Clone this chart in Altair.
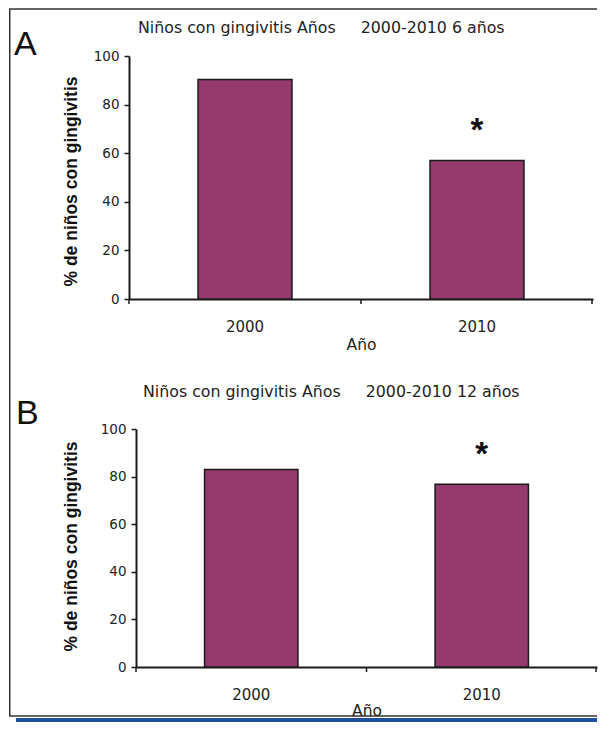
import altair as alt
import pandas as pd

# ---------------- data ----------------
years = ["2000", "2010"]
pct_6_years = [90.3, 57.0]
pct_12_years = [83.0, 76.8]
significance = ["", "*"]
panel_letters = ["A", "B"]
panel_titles = [
    "Niños con gingivitis Años     2000-2010 6 años",
    "Niños con gingivitis Años     2000-2010 12 años",
]
y_ticks = [0, 20, 40, 60, 80, 100]
x_title = "Año"
y_title = "% de niños con gingivitis"

# ---------------- style ----------------
BAR = "#943a6d"
INK = "#1a1a1a"
LABEL = "#222222"
BLUE = "#1d4f9e"
TXT_FONT = "DejaVu Sans"
Y_TITLE_FONT = "Liberation Sans"


def one_row():
    return alt.Data(values=[{}])


def panel(values, letter, title, width, height, x0, title_dx, title_dy,
          letter_dx, letter_dy, ytitle_x, ytitle_y, xtitle_y, extras=()):
    df = pd.DataFrame({"year": years, "pct": values, "sig": significance})
    base = alt.Chart(df)

    x_enc = alt.X(
        "year:N",
        sort=years,
        title=x_title,
        scale=alt.Scale(range=[x0, width], paddingInner=0.595, paddingOuter=0.2975),
        axis=alt.Axis(
            labelAngle=0,
            ticks=False,
            tickSize=0,
            labelPadding=20,
            labelFont=TXT_FONT,
            labelFontSize=15,
            labelColor=LABEL,
            domainColor=INK,
            domainWidth=2,
            grid=False,
            titleFont=TXT_FONT,
            titleFontSize=15.5,
            titleFontWeight="normal",
            titleColor=LABEL,
            titleX=(x0 + width) / 2,
            titleY=xtitle_y,
            titleAlign="center",
            titleBaseline="middle",
        ),
    )
    y_axis = dict(
        values=y_ticks,
        grid=False,
        tickSize=5,
        tickWidth=1.5,
        tickColor=INK,
        domainColor=INK,
        domainWidth=2,
        labelPadding=5,
        labelFont=TXT_FONT,
        labelFontSize=13.5,
        labelColor=LABEL,
        titleFont=Y_TITLE_FONT,
        titleFontSize=17.5,
        titleFontWeight="bold",
        titleColor="#111111",
        titleX=ytitle_x,
        titleY=ytitle_y,
        titleAlign="center",
        titleBaseline="middle",
        titleAngle=270,
    )
    if x0:
        y_axis["offset"] = -x0
    y_enc = alt.Y("pct:Q", title=y_title,
                  scale=alt.Scale(domain=[0, 100], nice=False, zero=True),
                  axis=alt.Axis(**y_axis))

    bars = base.mark_bar(color=BAR, stroke=INK, strokeWidth=1.5).encode(x=x_enc, y=y_enc)
    stars = base.mark_text(
        font="Liberation Sans", fontSize=33, fontWeight="bold", color="#111111",
        baseline="alphabetic", align="center", dy=-19,
    ).encode(x=alt.X("year:N", sort=years), y="pct:Q", text="sig:N")

    # x axis ticks at the band boundaries
    ticks = [
        alt.Chart(one_row()).mark_rule(color=INK, strokeWidth=1.5).encode(
            x=alt.value(px), y=alt.value(height), y2=alt.value(height + 5))
        for px in (x0, (x0 + width) / 2, width - 1)
    ]
    title_mark = alt.Chart(one_row()).mark_text(
        text=title.replace(" ", "\u00a0"), align="left", baseline="middle",
        font=TXT_FONT, fontSize=15.8, color="#222222",
    ).encode(x=alt.value(x0 + title_dx), y=alt.value(title_dy))
    letter_mark = alt.Chart(one_row()).mark_text(
        text=letter, align="left", baseline="alphabetic",
        font="Liberation Sans", fontSize=34, color="#111111",
    ).encode(x=alt.value(letter_dx), y=alt.value(letter_dy))

    return alt.layer(bars, stars, *ticks, title_mark, letter_mark, *extras).properties(
        width=width, height=height
    )


# frame around the figure (drawn from panel A coordinates)
frame_left = alt.Chart(one_row()).mark_rule(color="#333333", strokeWidth=1.5).encode(
    x=alt.value(-119.25), y=alt.value(-47), y2=alt.value(660))
frame_top = alt.Chart(one_row()).mark_rule(color="#333333", strokeWidth=1.5).encode(
    x=alt.value(-120), x2=alt.value(468), y=alt.value(-47))
frame_bottom = alt.Chart(one_row()).mark_rule(color="#333333", strokeWidth=1.5).encode(
    x=alt.value(-120), x2=alt.value(468), y=alt.value(660))
blue_band = alt.Chart(one_row()).mark_rect(color=BLUE).encode(
    x=alt.value(-113), x2=alt.value(468), y=alt.value(662), y2=alt.value(666))

panel_a = panel(pct_6_years, panel_letters[0], panel_titles[0], 464, 243, 0,
                9, -28, -115, -1, -58, 125, 45,
                extras=(frame_left, frame_top, frame_bottom, blue_band))
panel_b = panel(pct_12_years, panel_letters[1], panel_titles[1], 468, 238, 7,
                7, -37, -113, -5, -65, 117, 43)

chart = alt.vconcat(panel_a, panel_b, spacing=130, bounds="flush").properties(
    padding={"left": 0, "top": 0, "right": 0, "bottom": 0}
).configure_view(strokeWidth=0)

chart.save("out.html", embed_options={"renderer": "svg", "actions": False})
